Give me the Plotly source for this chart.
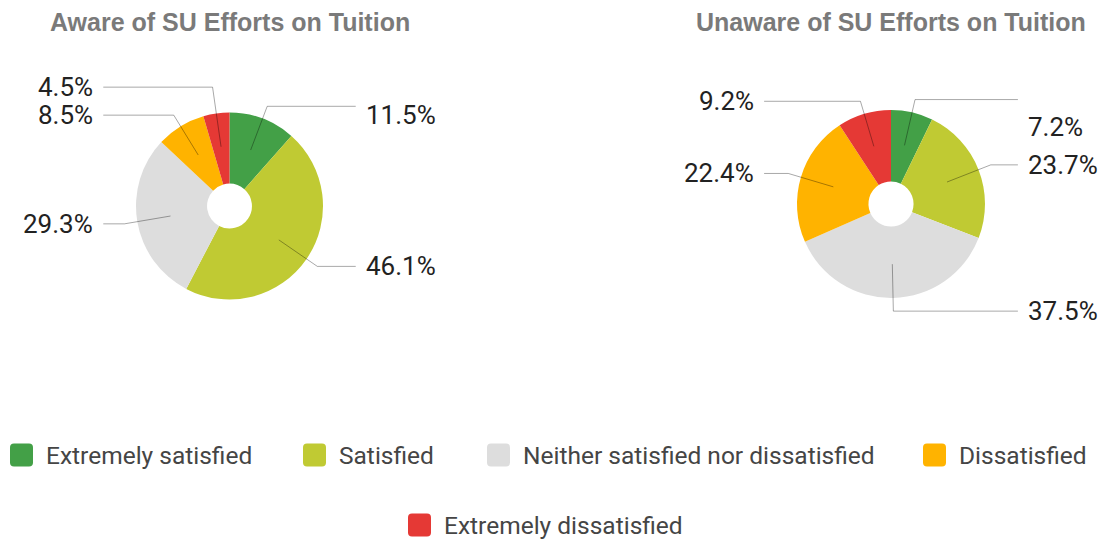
import math
import plotly.graph_objects as go

# ---------------- data ----------------
categories = ["Extremely satisfied", "Satisfied", "Neither satisfied nor dissatisfied",
              "Dissatisfied", "Extremely dissatisfied"]
aware_values = [11.5, 46.1, 29.3, 8.5, 4.5]
unaware_values = [7.2, 23.7, 37.5, 22.4, 9.2]
chart_titles = ["Aware of SU Efforts on Tuition", "Unaware of SU Efforts on Tuition"]

# ---------------- style / layout ----------------
colors = ["#43A047", "#C0CA33", "#DDDDDD", "#FFB300", "#E53935"]
W, H = 1104, 539
pie_geom = [dict(cx=229.5, cy=206, r=93.5), dict(cx=891, cy=204, r=94)]
HOLE = 0.24
ANCHOR_F = 0.64      # leader line start (fraction of radius)
ELBOW_F = 1.14       # leader line elbow (fraction of radius)
END_F = 1.35         # horizontal end (fraction of radius)
GAP = 28             # min vertical gap between labels
label_nudge = [[9, 0, 0, 0, 0], [27, 0, 0, 0, 0]]
legend_rows = [(455, [10, 303, 487, 923]), (525, [408])]
MK = 23
FONT = "Roboto"
LINE_COL = "rgba(0,0,0,0.34)"


def px(x):
    return x / W


def py(y):
    return 1 - y / H


fig = go.Figure()
shapes = []
annotations = []

for k, vals in enumerate([aware_values, unaware_values]):
    g = pie_geom[k]
    cx, cy, R = g["cx"], g["cy"], g["r"]
    fig.add_trace(go.Pie(
        labels=categories, values=vals, sort=False, direction="clockwise", rotation=0,
        hole=HOLE, marker=dict(colors=colors, line=dict(width=0)),
        textinfo="none", hoverinfo="label+percent", showlegend=False,
        domain=dict(x=[px(cx - R), px(cx + R)], y=[py(cy + R), py(cy - R)]),
    ))
    annotations.append(dict(
        text="<b>" + chart_titles[k] + "</b>", x=px(cx), y=py(22), xref="paper", yref="paper",
        showarrow=False, xanchor="center", yanchor="middle",
        font=dict(family="Liberation Sans", size=25, color="#7a7a7a")))

    total = sum(vals)
    cum = 0
    info = []
    for i, v in enumerate(vals):
        mid = (cum + v / 2) / total * 2 * math.pi
        cum += v
        side = 1 if mid < math.pi else -1
        ny = cy - ELBOW_F * R * math.cos(mid)
        info.append(dict(i=i, mid=mid, side=side, y=ny))
    # dodge labels on each side
    for side in (1, -1):
        items = sorted([d for d in info if d["side"] == side], key=lambda d: d["y"])
        for j in range(len(items) - 2, -1, -1):
            items[j]["y"] = min(items[j]["y"], items[j + 1]["y"] - GAP)
    for d in info:
        mid, side, ly = d["mid"], d["side"], d["y"]
        ax = cx + ANCHOR_F * R * math.sin(mid)
        ay = cy - ANCHOR_F * R * math.cos(mid)
        c = math.cos(mid)
        if abs(c) > 1e-6:
            re = (cy - ly) / c
            if re < ELBOW_F * R * 0.9:
                re = ELBOW_F * R
        else:
            re = ELBOW_F * R
        ex = cx + re * math.sin(mid)
        ey = cy - re * math.cos(mid)
        endx = cx + side * END_F * R
        path = f"M {px(ax)},{py(ay)} L {px(ex)},{py(ey)} L {px(endx)},{py(ey)}"
        shapes.append(dict(type="path", path=path, xref="paper", yref="paper",
                           line=dict(color=LINE_COL, width=1)))
        annotations.append(dict(
            text=f"{vals[d['i']]}%", x=px(endx + side * 8), y=py(ey + label_nudge[k][d['i']]),
            xref="paper", yref="paper", showarrow=False,
            xanchor="left" if side > 0 else "right", yanchor="middle",
            font=dict(family=FONT, size=26, color="#222222")))

# custom legend
idx = 0
for rowy, lefts in legend_rows:
    for lx in lefts:
        x0, x1 = lx, lx + MK
        y0, y1 = rowy - MK / 2, rowy + MK / 2
        rr = 4
        path = (f"M {px(x0 + rr)},{py(y0)} L {px(x1 - rr)},{py(y0)} "
                f"Q {px(x1)},{py(y0)} {px(x1)},{py(y0 + rr)} L {px(x1)},{py(y1 - rr)} "
                f"Q {px(x1)},{py(y1)} {px(x1 - rr)},{py(y1)} L {px(x0 + rr)},{py(y1)} "
                f"Q {px(x0)},{py(y1)} {px(x0)},{py(y1 - rr)} L {px(x0)},{py(y0 + rr)} "
                f"Q {px(x0)},{py(y0)} {px(x0 + rr)},{py(y0)} Z")
        shapes.append(dict(type="path", path=path, xref="paper", yref="paper",
                           fillcolor=colors[idx], line=dict(width=0)))
        annotations.append(dict(
            text=categories[idx], x=px(lx + 34), y=py(rowy), xref="paper", yref="paper",
            showarrow=False, xanchor="left", yanchor="middle",
            font=dict(family=FONT, size=24.5, color="#454545")))
        idx += 1

fig.update_layout(
    width=W, height=H, margin=dict(l=0, r=0, t=0, b=0),
    paper_bgcolor="white", plot_bgcolor="white",
    shapes=shapes, annotations=annotations, showlegend=False,
)
fig.write_html("out.html", config={"displayModeBar": False},
               post_script="document.body.style.margin='0';document.body.style.overflow='hidden';")
